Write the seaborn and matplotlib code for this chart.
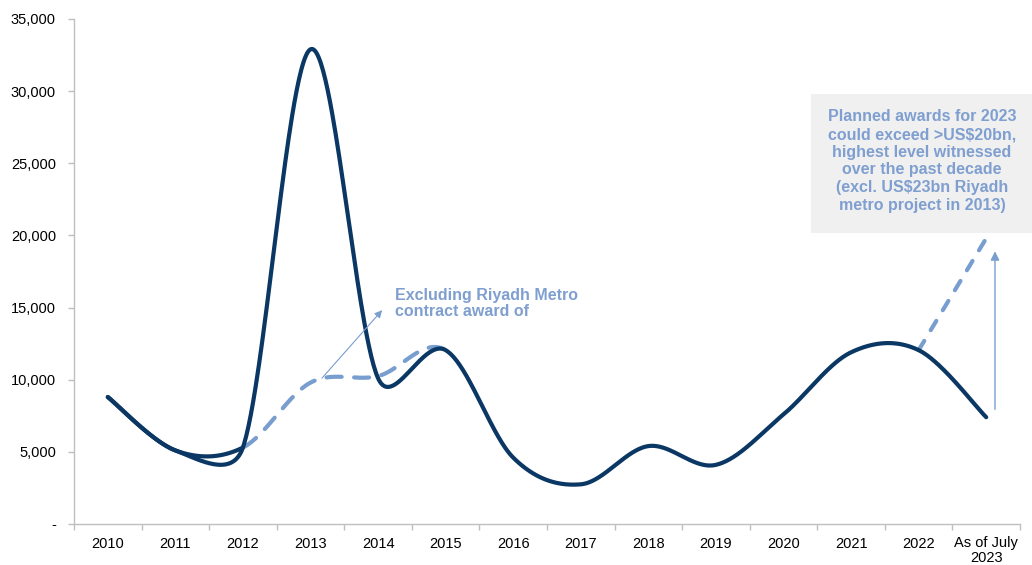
import numpy as np
import pandas as pd
import matplotlib
matplotlib.use("Agg")
import matplotlib.pyplot as plt
from matplotlib.patches import Rectangle
import seaborn as sns

# ---- data (US$ mn) ----
categories = ["2010", "2011", "2012", "2013", "2014", "2015", "2016",
              "2017", "2018", "2019", "2020", "2021", "2022", "As of July\n2023"]
awards = [8800, 5100, 5300, 32900, 10100, 12050, 4600,
          2750, 5400, 4100, 7600, 11900, 12050, 7400]
# same series with the Riyadh Metro contract removed (2010-2016)
awards_excl_metro = [8800, 5100, 5300, 9800, 10250, 12050, 4600]
# planned awards for full-year 2023
planned_idx = [12, 13]
planned_vals = [12050, 19800]

y_ticks = [0, 5000, 10000, 15000, 20000, 25000, 30000, 35000]

NAVY = "#0a3763"
LIGHT = "#789dcf"
TEXT_BLUE = "#7f9fd0"
GRID_GREY = "#bfbfbf"

sns.set_theme(style="white")
plt.rcParams["font.family"] = ["Liberation Sans", "DejaVu Sans"]

W, H = 1032, 565
fig = plt.figure(figsize=(W / 100, H / 100), dpi=100)
ax = fig.add_axes([74 / W, 41 / H, (1020 - 74) / W, (524 - 19) / H])
ax.set_xlim(-0.5, len(categories) - 0.5)
ax.set_ylim(0, 35000)


def smooth_display(xs, ys, n=60):
    """Bezier smoothing in screen space (office-chart style smoothed line)."""
    pts = ax.transData.transform(np.column_stack([xs, ys]))
    N = len(pts)
    out = []
    for i in range(N - 1):
        p0 = pts[i - 1] if i > 0 else pts[i]
        p1, p2 = pts[i], pts[i + 1]
        p3 = pts[i + 2] if i + 2 < N else pts[i + 1]
        d12 = np.linalg.norm(p2 - p1)
        d02 = np.linalg.norm(p2 - p0)
        d13 = np.linalg.norm(p3 - p1)
        f1 = 1 / 6 if d02 / 6 < d12 / 2 else (d12 / 2 / d02 if d02 > 0 else 0)
        f2 = 1 / 6 if d13 / 6 < d12 / 2 else (d12 / 2 / d13 if d13 > 0 else 0)
        c1 = p1 + f1 * (p2 - p0)
        c2 = p2 - f2 * (p3 - p1)
        t = np.linspace(0, 1, n)[:, None]
        seg = ((1 - t) ** 3) * p1 + 3 * ((1 - t) ** 2) * t * c1 + 3 * (1 - t) * t ** 2 * c2 + t ** 3 * p2
        out.append(seg if i == 0 else seg[1:])
    seg_pts = np.vstack(out)
    data = ax.transData.inverted().transform(seg_pts)
    seg_id = np.concatenate([np.zeros(n)] + [np.full(n - 1, k) for k in range(1, N - 1)])
    return pd.DataFrame({"x": data[:, 0], "y": data[:, 1], "seg": seg_id})


LW = 3.0

# excluding-metro series: solid up to 2012, dashed 2012-2015
ex = smooth_display(np.arange(len(awards_excl_metro)), awards_excl_metro)
ex_solid = ex[ex.seg < 2]
ex_dash = ex[(ex.seg >= 2) & (ex.seg < 5)]
sns.lineplot(data=ex_solid, x="x", y="y", sort=False, estimator=None, ax=ax,
             color=NAVY, lw=LW, solid_capstyle="round")
sns.lineplot(data=ex_dash, x="x", y="y", sort=False, estimator=None, ax=ax,
             color=LIGHT, lw=LW, dashes=False, linestyle=(0, (3.6, 3.0)),
             dash_capstyle="round")

# planned 2023
sns.lineplot(x=planned_idx, y=planned_vals, ax=ax, sort=False, estimator=None,
             color=LIGHT, lw=LW, linestyle=(0, (2.6, 3.0)), dash_capstyle="round")

# main series
main = smooth_display(np.arange(len(awards)), awards)
sns.lineplot(data=main, x="x", y="y", sort=False, estimator=None, ax=ax,
             color=NAVY, lw=LW, solid_capstyle="round")

# axes styling
for side in ["top", "right"]:
    ax.spines[side].set_visible(False)
for side in ["left", "bottom"]:
    ax.spines[side].set_color(GRID_GREY)
    ax.spines[side].set_linewidth(1.0)

ax.set_yticks(y_ticks)
ax.set_yticklabels(["-" if v == 0 else f"{v:,}" for v in y_ticks])
ax.set_xticks(range(len(categories)))
ax.set_xticklabels(categories, linespacing=1.0)
ax.set_xticks(np.arange(-0.5, len(categories), 1.0), minor=True)
ax.tick_params(axis="x", which="major", length=0, pad=9, labelsize=10.5, labelcolor="black")
ax.tick_params(axis="x", which="minor", length=4, width=1, color=GRID_GREY, direction="out")
ax.tick_params(axis="y", which="major", length=4, width=1, color=GRID_GREY, direction="out",
               pad=9, labelsize=10.5, labelcolor="black")
ax.tick_params(left=True, bottom=True, which="both")
ax.set_xlabel("")
ax.set_ylabel("")
ax.grid(False)
if ax.get_legend():
    ax.get_legend().remove()

# annotation: excluding Riyadh Metro
ax.annotate("", xy=(4.06, 14820), xytext=(3.17, 10110),
            arrowprops=dict(arrowstyle="-|>", color=LIGHT, lw=0.8, mutation_scale=11,
                            shrinkA=0, shrinkB=0))
ax.text(4.25, 15300, "Excluding Riyadh Metro\ncontract award of", color=TEXT_BLUE,
        fontsize=11.5, fontweight="bold", ha="left", va="center", linespacing=1.05)

# annotation: planned awards box
ax.annotate("", xy=(13.13, 18900), xytext=(13.13, 7950),
            arrowprops=dict(arrowstyle="-|>", color=LIGHT, lw=1.0, mutation_scale=13,
                            shrinkA=0, shrinkB=0))
fig.patches.append(Rectangle((811 / W, (H - 233) / H), (W - 811) / W, (233 - 94) / H,
                             transform=fig.transFigure, facecolor="#f0f0f0",
                             edgecolor="none", zorder=0))
fig.text(922 / W, (H - 161) / H,
         "Planned awards for 2023\ncould exceed >US$20bn,\nhighest level witnessed\n"
         "over the past decade\n(excl. US$23bn Riyadh\nmetro project in 2013)",
         color=TEXT_BLUE, fontsize=11.5, fontweight="bold", ha="center", va="center",
         linespacing=1.22)

fig.savefig("out.png", dpi=100)
